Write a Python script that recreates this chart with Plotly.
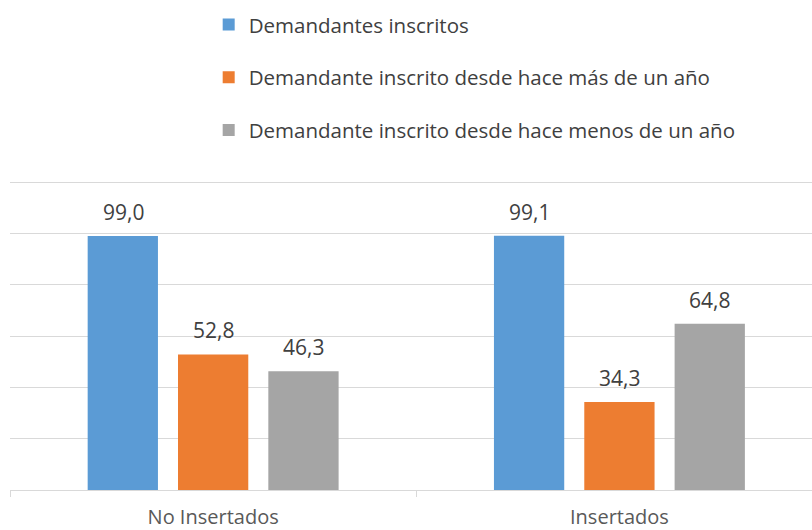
import plotly.graph_objects as go

categories = ["No Insertados", "Insertados"]

series_names = [
    "Demandantes inscritos",
    "Demandante inscrito desde hace más de un año",
    "Demandante inscrito desde hace menos de un año",
]

inscritos = [99.0, 99.1]
mas_de_un_ano = [52.8, 34.3]
menos_de_un_ano = [46.3, 64.8]

colors = ["#5b9bd5", "#ed7d31", "#a5a5a5"]

FONT = "Open Sans, sans-serif"
SLOT_PX = 90  # horizontal distance between bars of one group

fig = go.Figure()

all_series = [inscritos, mas_de_un_ano, menos_de_un_ano]

# one bar trace per series
for i, (name, values) in enumerate(zip(series_names, all_series)):
    fig.add_trace(
        go.Bar(
            x=categories,
            y=values,
            name=name,
            legendgroup=str(i),
            marker=dict(color=colors[i], line=dict(width=0)),
        )
    )

    # value labels above bars
    for cat, v in zip(categories, values):
        fig.add_annotation(
            x=cat,
            y=v,
            text=f"{v:.1f}".replace(".", ","),
            showarrow=False,
            xshift=(i - 1) * SLOT_PX,
            yshift=24,
            yanchor="middle",
            font=dict(size=21, color="#404040", family=FONT),
        )

fig.update_layout(
    width=812,
    height=530,
    margin=dict(l=10, r=0, t=181, b=40, autoexpand=False),
    paper_bgcolor="white",
    plot_bgcolor="white",
    font=dict(family=FONT, color="#595959"),
    barmode="group",
    bargap=0.333,
    bargroupgap=0.222,
    showlegend=True,
    legend=dict(
        xref="container",
        yref="container",
        x=0.257,
        y=0.991,
        xanchor="left",
        yanchor="top",
        traceorder="grouped",
        tracegroupgap=23,
        font=dict(size=20.5, color="#404040", family=FONT),
        bgcolor="rgba(0,0,0,0)",
    ),
)

fig.update_xaxes(
    range=[-0.5, 1.474],
    showline=True,
    linecolor="#d9d9d9",
    linewidth=1,
    ticks="outside",
    tickson="boundaries",
    ticklen=6,
    tickcolor="#d9d9d9",
    tickangle=0,
    tickfont=dict(size=20, color="#595959", family=FONT),
    ticklabelstandoff=9,
    showgrid=False,
)

fig.update_yaxes(
    range=[0, 120.4],
    dtick=20,
    showgrid=True,
    gridcolor="#d9d9d9",
    gridwidth=1,
    showticklabels=False,
    zeroline=False,
)

fig.write_html(
    "out.html",
    config={"displayModeBar": False},
    post_script="document.body.style.margin='0';",
)
